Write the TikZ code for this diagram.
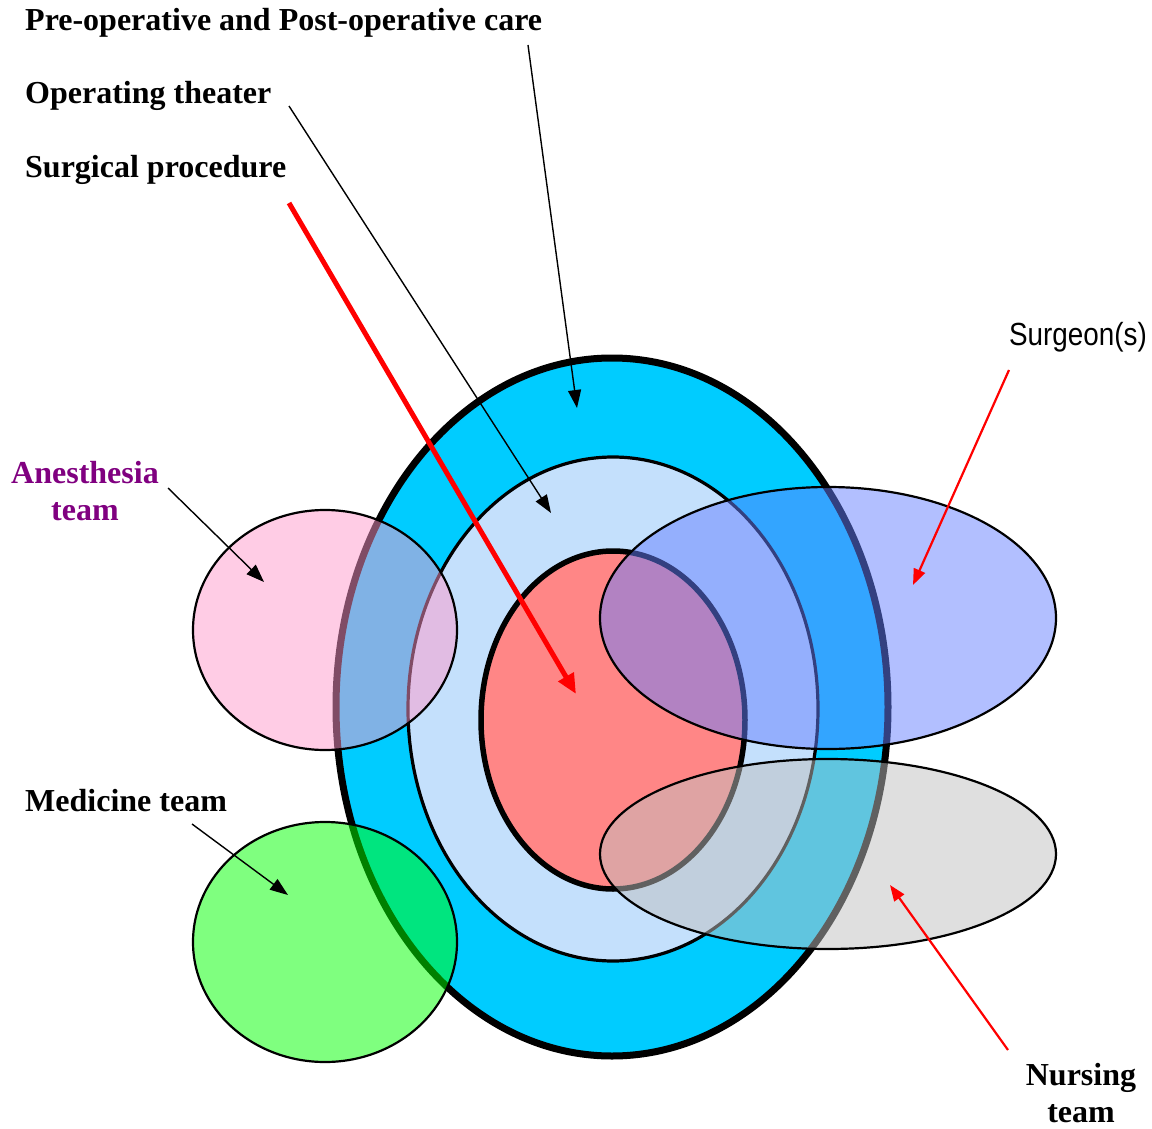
\documentclass[tikz,border=0pt]{standalone}
\usepackage{fontspec}
\setmainfont{Liberation Serif}
\newfontfamily\narrowsans[FakeStretch=0.87]{Liberation Sans}
\usetikzlibrary{arrows.meta}
\definecolor{ringcyan}{HTML}{00CCFF}
\definecolor{theaterblue}{HTML}{C4E0FC}
\definecolor{procred}{HTML}{FF8686}
\definecolor{surgblue}{HTML}{6680FF}
\definecolor{nursegray}{HTML}{C0C0C0}
\definecolor{anespink}{HTML}{FF99CC}
\definecolor{medgreen}{HTML}{00FF00}
\definecolor{anespurple}{HTML}{800080}
\tikzset{
  lbl/.style={font=\fontsize{32}{37}\selectfont\bfseries, inner sep=0pt},
  team/.style={draw=black, line width=2.2pt, fill opacity=0.5},
  blackarrow/.style={draw=black, line width=1.4pt, -{Triangle[length=18pt,width=13pt]}},
  redthin/.style={draw=red, line width=2.2pt, -{Triangle[length=16pt,width=12pt]}},
  redthick/.style={draw=red, line width=5pt, -{Triangle[length=20pt,width=17pt]}},
}
\begin{document}
\begin{tikzpicture}[x=1pt,y=-1pt]
\useasboundingbox (0,0) rectangle (1152,1129);
% nested ellipses
\draw[line width=7pt, fill=ringcyan] (612,707) ellipse [x radius=276, y radius=349];
\draw[line width=3.2pt, fill=theaterblue] (613,709) ellipse [x radius=205, y radius=252];
\draw[line width=5.5pt, fill=procred] (613,720) ellipse [x radius=132, y radius=169];
% team ellipses
\draw[team, fill=surgblue] (828,618) ellipse [x radius=228, y radius=131];
\draw[team, fill=nursegray] (828,854) ellipse [x radius=228, y radius=95];
\draw[team, fill=anespink] (325,630) ellipse [x radius=132, y radius=120];
\draw[team, fill=medgreen] (325,942) ellipse [x radius=132, y radius=120];
% labels
\node[lbl, anchor=base west] (pre) at (25,31) {Pre-operative and Post-operative care};
\node[lbl, anchor=base west] (ot) at (25,104) {Operating theater};
\node[lbl, anchor=base west] (sp) at (25,178) {Surgical procedure};
\node[lbl, anchor=base west] (med) at (25,811) {Medicine team};
\node[lbl, text=anespurple, align=center, anchor=base] (anes) at (85,520) {Anesthesia\\team};
\node[lbl, align=center, anchor=base] (nurse) at (1081,1122) {Nursing\\team};
\node[font=\fontsize{32}{36}\selectfont\narrowsans, inner sep=0pt, anchor=base east] (surg) at (1147,345) {Surgeon(s)};
% arrow endpoints
\coordinate (preS) at (528,45);   \coordinate (preE) at (577,408);
\coordinate (otS) at (289,106);   \coordinate (otE) at (551,513);
\coordinate (spS) at (289,203);   \coordinate (spE) at (576,694);
\coordinate (anS) at (168,488);   \coordinate (anE) at (264,582);
\coordinate (meS) at (192,824);   \coordinate (meE) at (288,895);
\coordinate (suS) at (1009,370);  \coordinate (suE) at (913,585);
\coordinate (nuS) at (1008,1050); \coordinate (nuE) at (890,885);
% arrows
\draw[blackarrow] (preS) -- (preE);
\draw[blackarrow] (otS) -- (otE);
\draw[redthick] (spS) -- (spE);
\draw[blackarrow] (anS) -- (anE);
\draw[blackarrow] (meS) -- (meE);
\draw[redthin] (suS) -- (suE);
\draw[redthin] (nuS) -- (nuE);
\end{tikzpicture}
\end{document}
